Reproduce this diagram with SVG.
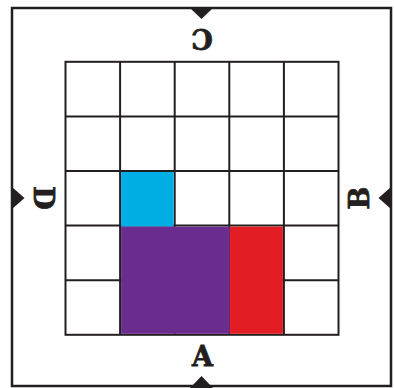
<svg xmlns="http://www.w3.org/2000/svg" width="394" height="388" viewBox="0 0 394 388">
  <style>
    .frame { fill: none; stroke: #231f20; stroke-width: 2.5; }
    .grid { stroke: #231f20; stroke-width: 2; fill: none; }
    .tri { fill: #231f20; }
    .lbl { font-family: "DejaVu Serif", serif; font-weight: bold; font-size: 27px; fill: #231f20; stroke: #231f20; stroke-width: 0.8; text-anchor: middle; }
  </style>
  <rect width="394" height="388" fill="#ffffff"/>
  <g id="frame">
    <rect class="frame" x="12" y="8" width="379" height="378"/>
  </g>
  <g id="grid">
    <g class="grid">
      <rect x="65.5" y="61.8" width="273" height="273"/>
      <line x1="120.1" y1="61.8" x2="120.1" y2="334.8"/>
      <line x1="174.7" y1="61.8" x2="174.7" y2="334.8"/>
      <line x1="229.3" y1="61.8" x2="229.3" y2="334.8"/>
      <line x1="283.9" y1="61.8" x2="283.9" y2="334.8"/>
      <line x1="65.5" y1="116.4" x2="338.5" y2="116.4"/>
      <line x1="65.5" y1="171" x2="338.5" y2="171"/>
      <line x1="65.5" y1="225.6" x2="338.5" y2="225.6"/>
      <line x1="65.5" y1="280.2" x2="338.5" y2="280.2"/>
    </g>
  </g>
  <g id="blue-cell">
    <rect x="121.1" y="172" width="52.6" height="54.6" fill="#00aee6"/>
  </g>
  <g id="purple-block">
    <rect x="121.1" y="226.6" width="108.7" height="107.2" fill="#6a2c8e"/>
  </g>
  <g id="red-block">
    <rect x="229.8" y="226.6" width="53.1" height="107.2" fill="#e31d24"/>
  </g>
  <g id="markers">
    <polygon class="tri" points="190,8 213,8 201.5,19"/>
    <polygon class="tri" points="190,388 213,388 201.5,376"/>
    <polygon class="tri" points="12,187 12,209 24.5,198"/>
    <polygon class="tri" points="391,187 391,209 378.5,198"/>
  </g>
  <g id="label-A"><text class="lbl" x="202.5" y="365.5">A</text></g>
  <g id="label-C"><text class="lbl" transform="translate(202,39) rotate(180)" x="0" y="10">C</text></g>
  <g id="label-D"><text class="lbl" transform="translate(44,198) rotate(90)" x="0" y="10">D</text></g>
  <g id="label-B"><text class="lbl" transform="translate(359,198) rotate(-90)" x="0" y="10">B</text></g>
</svg>
